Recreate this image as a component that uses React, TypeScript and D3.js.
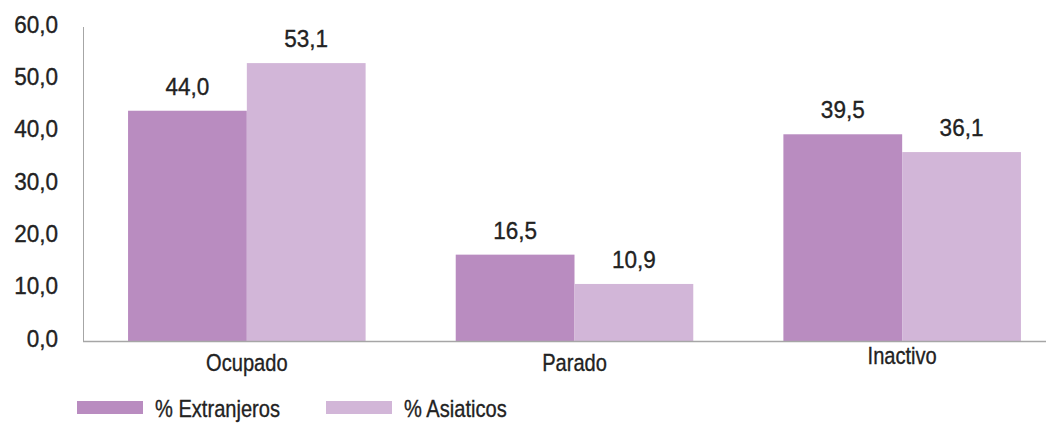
import React from "react";
import * as d3 from "d3";

const categories = ["Ocupado", "Parado", "Inactivo"];
const seriesNames = ["% Extranjeros", "% Asiaticos"];
const extranjeros = [44.0, 16.5, 39.5];
const asiaticos = [53.1, 10.9, 36.1];
const yTicks = [0, 10, 20, 30, 40, 50, 60];

const W = 1046;
const H = 423;
const colors = ["#B98CC0", "#D2B6D8"];
const FONT = "'Liberation Sans', Arial, sans-serif";
const textColor = "#222222";
const axisColor = "#A6A6A6";
const FS = 24.5;
const SX_TEXT = 0.82;
const SX_NUM = 0.92;

const fmt = (v: number) => v.toFixed(1).replace(".", ",");

function T({
  x,
  y,
  anchor = "start",
  sx = SX_TEXT,
  children,
}: {
  x: number;
  y: number;
  anchor?: string;
  sx?: number;
  children: React.ReactNode;
}) {
  return (
    <text
      transform={`translate(${x},${y}) scale(${sx},1)`}
      textAnchor={anchor}
      fontSize={FS}
      fill={textColor}
      stroke={textColor}
      strokeWidth={0.35}
    >
      {children}
    </text>
  );
}

export default function App() {
  const y = d3.scaleLinear().domain([0, 60]).range([341, 27]);
  const x0 = d3
    .scaleBand<string>()
    .domain(categories)
    .range([83, 1066])
    .paddingInner(0.275)
    .paddingOuter(0.1375);
  const x1 = d3
    .scaleBand<string>()
    .domain(seriesNames)
    .range([0, x0.bandwidth()]);
  const series = [extranjeros, asiaticos];
  const labelYOffsets = [0, 0, -7];

  return (
    <svg
      width={W}
      height={H}
      style={{ position: "absolute", left: 0, top: 0, fontFamily: FONT }}
    >
      <rect width={W} height={H} fill="#fff" />
      {yTicks.map((t) => (
        <T key={t} x={58} y={y(t) + 5.5} anchor="end" sx={SX_NUM}>
          {fmt(t)}
        </T>
      ))}
      {categories.map((c, i) => (
        <g key={c}>
          {series.map((s, j) => (
            <g key={j}>
              <rect
                x={(x0(c) as number) + (x1(seriesNames[j]) as number)}
                y={y(s[i])}
                width={x1.bandwidth()}
                height={y(0) - y(s[i])}
                fill={colors[j]}
              />
              <T
                x={(x0(c) as number) + (x1(seriesNames[j]) as number) + x1.bandwidth() / 2}
                y={y(s[i]) - 16}
                anchor="middle"
                sx={SX_NUM}
              >
                {fmt(s[i])}
              </T>
            </g>
          ))}
        </g>
      ))}
      <line x1={83.5} x2={83.5} y1={27} y2={y(0)} stroke={axisColor} strokeWidth={1} />
      <line x1={83} x2={W} y1={y(0) + 0.5} y2={y(0) + 0.5} stroke={axisColor} strokeWidth={1.5} />
      {categories.map((c, i) => (
        <T key={c} x={(x0(c) as number) + x0.bandwidth() / 2} y={371 + labelYOffsets[i]} anchor="middle">
          {c}
        </T>
      ))}
      {seriesNames.map((n, j) => {
        const lx = [77, 326][j];
        return (
          <g key={n}>
            <rect x={lx} y={401} width={66} height={13} fill={colors[j]} />
            <T x={lx + 78} y={417}>
              {n}
            </T>
          </g>
        );
      })}
    </svg>
  );
}
